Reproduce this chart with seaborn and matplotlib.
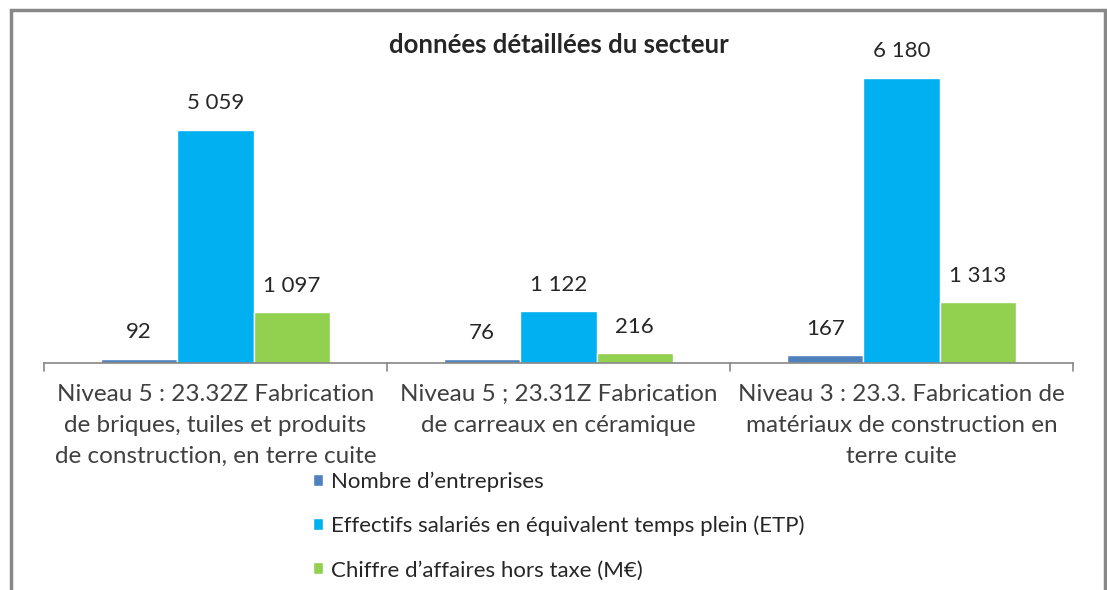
import pandas as pd
import matplotlib.pyplot as plt
import seaborn as sns
from matplotlib.patches import Rectangle

categories = [
    "Niveau 5 : 23.32Z Fabrication\nde briques, tuiles et produits\nde construction, en terre cuite",
    "Niveau 5 ; 23.31Z Fabrication\nde carreaux en céramique",
    "Niveau 3 : 23.3. Fabrication de\nmatériaux de construction en\nterre cuite",
]
series = [
    "Nombre d\u2019entreprises",
    "Effectifs salariés en équivalent temps plein (ETP)",
    "Chiffre d\u2019affaires hors taxe (M€)",
]
entreprises = [92, 76, 167]
effectifs = [5059, 1122, 6180]
chiffre = [1097, 216, 1313]
colors = ["#4F81BD", "#00B0F0", "#92D050"]

rows = []
for s, vals in zip(series, [entreprises, effectifs, chiffre]):
    for c, v in zip(categories, vals):
        rows.append({"cat": c, "serie": s, "val": v})
df = pd.DataFrame(rows)

sns.set_style("white")
plt.rcParams['font.family'] = ['Lato', 'DejaVu Sans']

fig = plt.figure(figsize=(11.07, 5.90), dpi=100)
ax = fig.add_axes([44 / 1107, 227 / 590, 1029 / 1107, 323 / 590])

sns.barplot(data=df, x="cat", y="val", hue="serie", palette=colors,
            width=0.667, gap=0, saturation=1, ax=ax, legend=True)

ax.set_ylim(0, 7000)
ax.set_xlim(-0.5, 2.5)
ax.set_xlabel("")
ax.set_ylabel("")
ax.set_yticks([])
ax.set_xticks([0, 1, 2])
ax.set_xticklabels([])
ax.tick_params(axis="x", length=0)
# category labels drawn by hand so the line spacing sticks
for i, c in enumerate(categories):
    ax.annotate(c, (i, 0), xycoords=("data", "axes fraction"),
                xytext=(0, -15), textcoords="offset points",
                ha="center", va="top", fontsize=17.5, color="#404040",
                linespacing=1.6)
for s in ["top", "right", "left"]:
    ax.spines[s].set_visible(False)
ax.spines["bottom"].set_color("#868686")
ax.spines["bottom"].set_linewidth(1.2)
# separators between groups
for xb in [-0.5, 0.5, 1.5, 2.5]:
    ax.plot([xb, xb], [0, -180], color="#868686", lw=1.2, clip_on=False)

for cont in ax.containers:
    for bar in cont:
        h = bar.get_height()
        ax.annotate(f"{int(h):,}".replace(",", " "),
                    (bar.get_x() + bar.get_width() / 2, h),
                    xytext=(0, 19), textcoords="offset points",
                    ha="center", va="center", fontsize=16, color="#262626")

ax.text(0.5, 0.985, "données détaillées du secteur", transform=ax.transAxes,
        ha="center", va="center", fontsize=18.5, fontweight="bold")

handles, labels = ax.get_legend_handles_labels()
ax.legend(handles, labels, loc="upper left", bbox_to_anchor=(313 / 1107, 0.201),
          bbox_transform=fig.transFigure, frameon=False, fontsize=16,
          handlelength=0.45, handleheight=0.45, handletextpad=0.35,
          labelspacing=1.08, labelcolor="#262626", borderpad=0, borderaxespad=0)

fig.patches.append(Rectangle((11 / 1107, -0.1), 1094 / 1107, 1.1 - 10 / 590,
                             transform=fig.transFigure, fill=False,
                             edgecolor="#888888", lw=2.5))

fig.savefig("out.png", dpi=100)
